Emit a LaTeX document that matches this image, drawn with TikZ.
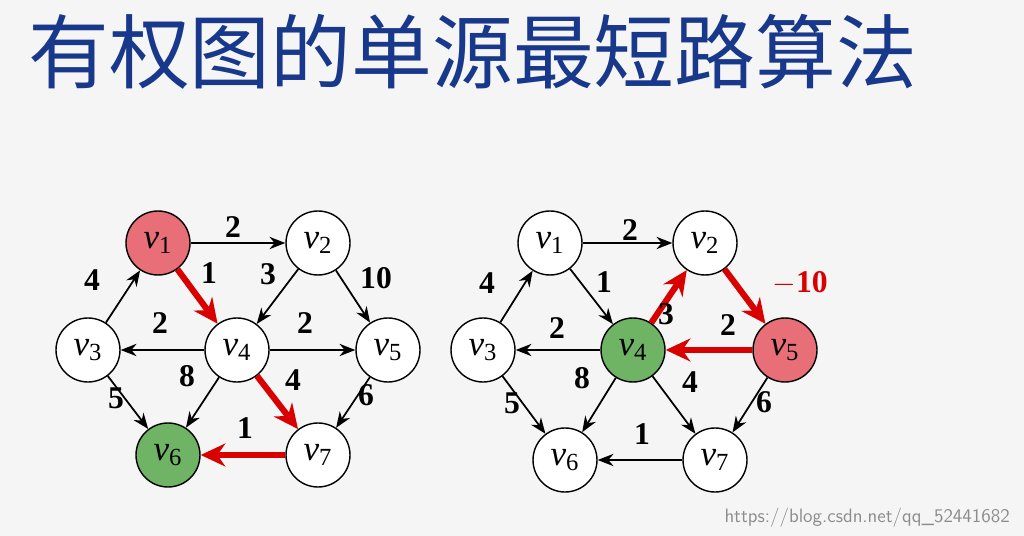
\documentclass[tikz,border=0pt]{standalone}
\usepackage{fontspec}
\setmainfont{Liberation Serif}
\newfontfamily\cjk{Noto Sans CJK SC}
\usetikzlibrary{arrows.meta}
\definecolor{titleblue}{RGB}{24,56,140}
\definecolor{nodered}{RGB}{232,110,120}
\definecolor{nodegreen}{RGB}{110,180,100}
\newcommand{\vx}[1]{\textit{v}\textsubscript{#1}}
\begin{document}
\begin{tikzpicture}[x=0.02cm,y=-0.02cm,>={Stealth[length=9pt,width=7pt]}]
  \tikzstyle{vertex}=[circle,draw,thick,fill=white,minimum size=1.28cm,inner sep=0pt,font=\fontsize{20}{20}\selectfont]
  \tikzstyle{wt}=[font=\bfseries\fontsize{18}{18}\selectfont]
  \tikzstyle{edge}=[->,line width=1pt]
  \tikzstyle{hot}=[->,line width=3.5pt,red!85!black,>={Stealth[length=14pt,width=13pt]}]
  \fill[white!96!black] (0,0) rectangle (1024,536);
  \node[text=titleblue,font=\cjk\fontsize{46}{46}\selectfont,anchor=west] (title) at (22,52) {有权图的单源最短路算法};
  % left graph
  \node[vertex,fill=nodered] (L_1) at (158,243) {\vx1};
  \node[vertex] (L_2) at (318,243) {\vx2};
  \node[vertex] (L_3) at (88,350) {\vx3};
  \node[vertex] (L_4) at (237,350) {\vx4};
  \node[vertex] (L_5) at (388,350) {\vx5};
  \node[vertex,fill=nodegreen] (L_6) at (168,455) {\vx6};
  \node[vertex] (L_7) at (318,455) {\vx7};

  \draw[edge] (L_1) -- (L_2);
  \draw[hot] (L_1) -- (L_4);
  \draw[edge] (L_2) -- (L_4);
  \draw[edge] (L_2) -- (L_5);
  \draw[edge] (L_3) -- (L_1);
  \draw[edge] (L_4) -- (L_3);
  \draw[edge] (L_4) -- (L_5);
  \draw[edge] (L_4) -- (L_6);
  \draw[hot] (L_4) -- (L_7);
  \draw[edge] (L_3) -- (L_6);
  \draw[edge] (L_5) -- (L_7);
  \draw[hot] (L_7) -- (L_6);

  \node[wt] at (233,227) {2};
  \node[wt] at (209,273) {1};
  \node[wt] at (268,274) {3};
  \node[wt] at (376,278) {10};
  \node[wt] at (92,280) {4};
  \node[wt] at (160,323) {2};
  \node[wt] at (305,323) {2};
  \node[wt] at (187,376) {8};
  \node[wt] at (293,380) {4};
  \node[wt] at (116,398) {5};
  \node[wt] at (366,395) {6};
  \node[wt] at (245,428) {1};

  % right graph
  \node[vertex] (R_1) at (550,243) {\vx1};
  \node[vertex] (R_2) at (705,243) {\vx2};
  \node[vertex] (R_3) at (483,350) {\vx3};
  \node[vertex,fill=nodegreen] (R_4) at (633,350) {\vx4};
  \node[vertex,fill=nodered] (R_5) at (785,350) {\vx5};
  \node[vertex] (R_6) at (565,460) {\vx6};
  \node[vertex] (R_7) at (715,460) {\vx7};

  \draw[edge] (R_1) -- (R_2);
  \draw[edge] (R_1) -- (R_4);
  \draw[hot] (R_4) -- (R_2);
  \draw[hot] (R_2) -- (R_5);
  \draw[edge] (R_3) -- (R_1);
  \draw[edge] (R_4) -- (R_3);
  \draw[hot] (R_5) -- (R_4);
  \draw[edge] (R_4) -- (R_6);
  \draw[edge] (R_4) -- (R_7);
  \draw[edge] (R_3) -- (R_6);
  \draw[edge] (R_5) -- (R_7);
  \draw[edge] (R_7) -- (R_6);

  \node[wt] at (630,230) {2};
  \node[wt] at (604,282) {1};
  \node[wt] at (666,314) {3};
  \node[wt,text=red!85!black] at (800,283) {$-$10};
  \node[wt] at (487,283) {4};
  \node[wt] at (557,328) {2};
  \node[wt] at (728,325) {2};
  \node[wt] at (582,378) {8};
  \node[wt] at (690,382) {4};
  \node[wt] at (512,403) {5};
  \node[wt] at (764,402) {6};
  \node[wt] at (642,434) {1};

  \node[text=black!45,font=\sffamily\fontsize{11}{11}\selectfont,anchor=east] (mark) at (1016,518) {https://blog.csdn.net/qq\_52441682};
\end{tikzpicture}
\end{document}
